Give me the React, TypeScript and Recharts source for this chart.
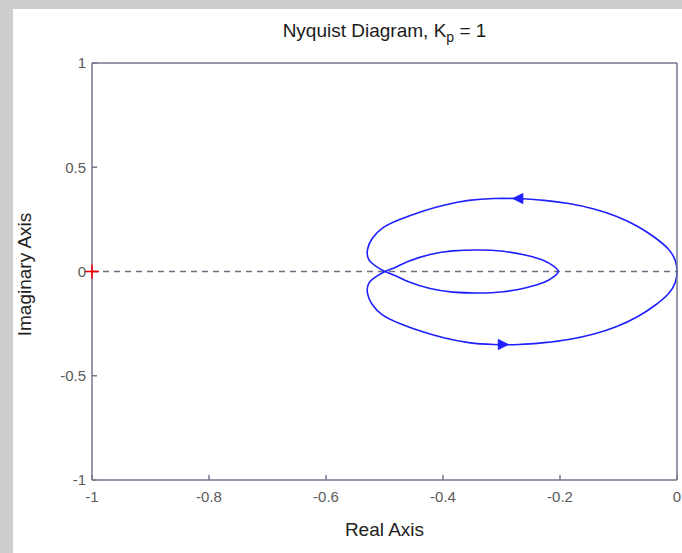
import React from 'react';
import { ComposedChart, Line, XAxis, YAxis, ReferenceLine, Scatter } from 'recharts';

// Nyquist curve, traced from the top of the outer loop
// (leftwards, the arrow direction) all the way round and back to the same point.
const realPart = [
  -0.27, -0.313, -0.356, -0.397, -0.436, -0.474, -0.503, -0.521, -0.529, -0.527, -0.515, -0.499,
  -0.48, -0.46, -0.422, -0.383, -0.34, -0.297, -0.258, -0.227, -0.211, -0.203,
  -0.211, -0.227, -0.258, -0.297, -0.34, -0.383, -0.422, -0.46, -0.48, -0.499,
  -0.515, -0.527, -0.529, -0.521, -0.503, -0.474, -0.436, -0.397, -0.356, -0.313,
  -0.27, -0.227, -0.185, -0.142, -0.103, -0.067, -0.038, -0.015, -0.003, 0,
  -0.003, -0.015, -0.038, -0.067, -0.103, -0.142, -0.185, -0.227, -0.27,
];
const imagPart = [
  0.35, 0.35, 0.341, 0.319, 0.288, 0.249, 0.209, 0.158, 0.106, 0.058, 0.026, 0,
  -0.022, -0.048, -0.082, -0.099, -0.103, -0.097, -0.078, -0.052, -0.026, 0,
  0.026, 0.052, 0.078, 0.097, 0.103, 0.099, 0.082, 0.048, 0.022, 0,
  -0.026, -0.058, -0.106, -0.158, -0.209, -0.249, -0.288, -0.319, -0.341, -0.35,
  -0.35, -0.341, -0.326, -0.3, -0.264, -0.216, -0.163, -0.108, -0.053, 0,
  0.053, 0.108, 0.163, 0.216, 0.264, 0.3, 0.326, 0.341, 0.35,
];

const arrowX = [-0.272, -0.297];
const arrowY = [0.35, -0.35];
const arrowDir = ['left', 'right'];

const criticalX = [-1];
const criticalY = [0];

const xTicks = [-1, -0.8, -0.6, -0.4, -0.2, 0];
const yTicks = [-1, -0.5, 0, 0.5, 1];

const curveData = realPart.map((x, i) => ({ x, y: imagPart[i] }));
const arrowData = arrowX.map((x, i) => ({ x, y: arrowY[i], dir: arrowDir[i] }));
const criticalData = criticalX.map((x, i) => ({ x, y: criticalY[i] }));

const FONT = '"Liberation Sans", Arial, Helvetica, sans-serif';
const AXIS = '#75758f';
const TICK = '#5a5a5a';
const BLUE = '#1f1fff';

const ArrowShape = (props: any) => {
  const { cx, cy, payload } = props;
  if (cx == null || cy == null) return <g />;
  const L = 10;
  const H = 5;
  const d = payload.dir === 'left' ? -1 : 1;
  const tip = cx + (d * L) / 2;
  const back = cx - (d * L) / 2;
  return <polygon points={`${tip},${cy} ${back},${cy - H} ${back},${cy + H}`} fill={BLUE} stroke={BLUE} strokeWidth={1} />;
};

const PlusShape = (props: any) => {
  const { cx, cy } = props;
  if (cx == null || cy == null) return <g />;
  const a = 7;
  return (
    <g stroke="#ff0000" strokeWidth={1.6}>
      <line x1={cx - a} y1={cy} x2={cx + a} y2={cy} />
      <line x1={cx} y1={cy - a} x2={cx} y2={cy + a} />
    </g>
  );
};

const XLabel = (p: any) => {
  const vb = p.viewBox || { x: 92, y: 480, width: 585, height: 30 };
  return (
    <text x={vb.x + vb.width / 2} y={vb.y + 56} textAnchor="middle" fill="#222" fontSize={19} fontFamily={FONT}>
      Real Axis
    </text>
  );
};

const YLabel = (p: any) => {
  const vb = p.viewBox || { x: 0, y: 63, width: 92, height: 417 };
  const x = 31;
  const y = vb.y + vb.height / 2 + 3;
  return (
    <text x={x} y={y} transform={`rotate(-90, ${x}, ${y})`} textAnchor="middle" fill="#222" fontSize={19} fontFamily={FONT}>
      Imaginary Axis
    </text>
  );
};

export default function App() {
  const tickStyle = { fill: TICK, fontSize: 15, fontFamily: FONT };
  return (
    <div style={{ position: 'absolute', left: 0, top: 0, width: 682, height: 553, background: '#cdcdcd', overflow: 'hidden' }}>
      <div style={{ position: 'absolute', left: 13, top: 9, width: 669, height: 544, background: '#ffffff' }} />
      <div
        style={{
          position: 'absolute',
          left: 92,
          width: 585,
          top: 21,
          textAlign: 'center',
          fontFamily: FONT,
          fontSize: 19,
          lineHeight: '19px',
          color: '#1a1a1a',
          whiteSpace: 'nowrap',
        }}
      >
        Nyquist Diagram, K<span style={{ fontSize: 14, position: 'relative', top: 5 }}>p</span> = 1
      </div>
      <div style={{ position: 'absolute', left: 0, top: 0 }}>
        <ComposedChart width={682} height={553} margin={{ top: 33, right: 0, bottom: 43, left: 0 }}>
          <XAxis
            xAxisId={0}
            type="number"
            dataKey="x"
            domain={[-1, 0]}
            ticks={xTicks}
            interval={0}
            orientation="bottom"
            height={30}
            tickSize={-5}
            tickMargin={16}
            axisLine={{ stroke: AXIS, strokeWidth: 1.5 }}
            tickLine={{ stroke: AXIS, strokeWidth: 1.5 }}
            tick={tickStyle}
            label={XLabel}
          />
          <XAxis
            xAxisId="top"
            type="number"
            dataKey="x"
            domain={[-1, 0]}
            ticks={xTicks}
            interval={0}
            orientation="top"
            height={30}
            tickSize={-5}
            axisLine={{ stroke: AXIS, strokeWidth: 1.5 }}
            tickLine={{ stroke: AXIS, strokeWidth: 1.5 }}
            tick={false}
          />
          <YAxis
            yAxisId={0}
            type="number"
            dataKey="y"
            domain={[-1, 1]}
            ticks={yTicks}
            interval={0}
            orientation="left"
            width={92}
            tickSize={-5}
            tickMargin={11}
            axisLine={{ stroke: AXIS, strokeWidth: 1.5 }}
            tickLine={{ stroke: AXIS, strokeWidth: 1.5 }}
            tick={tickStyle}
            label={YLabel}
          />
          <YAxis
            yAxisId="right"
            type="number"
            dataKey="y"
            domain={[-1, 1]}
            ticks={yTicks}
            interval={0}
            orientation="right"
            width={5}
            tickSize={-5}
            axisLine={{ stroke: AXIS, strokeWidth: 1.5 }}
            tickLine={{ stroke: AXIS, strokeWidth: 1.5 }}
            tick={false}
          />
          <ReferenceLine y={0} xAxisId={0} yAxisId={0} stroke="#6f6f80" strokeWidth={1.3} strokeDasharray="6 5" />
          <Line
            xAxisId={0}
            yAxisId={0}
            data={curveData}
            dataKey="y"
            type="natural"
            stroke={BLUE}
            strokeWidth={1.6}
            dot={false}
            activeDot={false}
            isAnimationActive={false}
          />
          <Scatter xAxisId={0} yAxisId={0} data={arrowData} dataKey="y" shape={ArrowShape} isAnimationActive={false} />
          <Scatter xAxisId={0} yAxisId={0} data={criticalData} dataKey="y" shape={PlusShape} isAnimationActive={false} />
        </ComposedChart>
      </div>
    </div>
  );
}
